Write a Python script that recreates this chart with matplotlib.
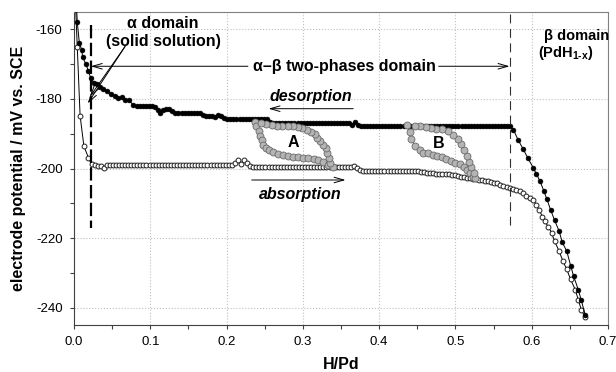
import matplotlib
matplotlib.use('Agg')
import matplotlib.pyplot as plt
from matplotlib.ticker import MultipleLocator

# 字体: Arial 风格 (Liberation Sans)
plt.rcParams['font.family'] = ['Liberation Sans', 'DejaVu Sans']
plt.rcParams['mathtext.fontset'] = 'custom'
plt.rcParams['mathtext.rm'] = 'Liberation Sans:bold'
plt.rcParams['mathtext.bf'] = 'Liberation Sans:bold'
plt.rcParams['mathtext.it'] = 'Liberation Sans:italic:bold'

# 1. desorption curve (filled dots)
des_x = [
    0.003, 0.0043, 0.007, 0.010, 0.0114, 0.0157, 0.019, 0.022, 0.026, 0.030,
    0.034, 0.038, 0.043, 0.048, 0.054, 0.058, 0.063, 0.067, 0.072, 0.077,
    0.082, 0.086, 0.090, 0.094, 0.098, 0.102, 0.106, 0.110, 0.113, 0.117,
    0.121, 0.125, 0.129, 0.133, 0.137, 0.141, 0.145, 0.149, 0.153, 0.157,
    0.161, 0.165, 0.169, 0.173, 0.177, 0.181, 0.185, 0.189, 0.193, 0.197,
    0.201, 0.205, 0.209, 0.213, 0.217, 0.221, 0.225, 0.229, 0.233, 0.237,
    0.241, 0.245, 0.249, 0.253, 0.257, 0.261, 0.265, 0.269, 0.273, 0.277,
    0.281, 0.285, 0.289, 0.293, 0.297, 0.301, 0.305, 0.309, 0.313, 0.317,
    0.321, 0.325, 0.329, 0.333, 0.337, 0.341, 0.345, 0.349, 0.353, 0.357,
    0.361, 0.364, 0.368, 0.372, 0.376, 0.380, 0.384, 0.388, 0.392, 0.396,
    0.400, 0.404, 0.408, 0.412, 0.416, 0.420, 0.424, 0.428, 0.432, 0.436,
    0.440, 0.444, 0.448, 0.452, 0.456, 0.460, 0.464, 0.468, 0.472, 0.476,
    0.480, 0.484, 0.488, 0.492, 0.496, 0.500, 0.504, 0.508, 0.512, 0.516,
    0.520, 0.524, 0.528, 0.532, 0.536, 0.540, 0.544, 0.548, 0.552, 0.556,
    0.560, 0.564, 0.568, 0.571, 0.576, 0.582, 0.589, 0.595, 0.602, 0.606,
    0.611, 0.616, 0.620, 0.625, 0.630, 0.636, 0.640, 0.646, 0.651, 0.655,
    0.661, 0.665, 0.670]
des_y = [
    -152.0, -157.9, -163.8, -165.8, -168.0, -170.0, -172.0, -174.0, -175.5, -175.8,
    -176.5, -177.0, -177.7, -178.5, -179.2, -179.8, -179.4, -180.3, -180.3, -181.6,
    -182.0, -182.0, -182.0, -182.0, -182.0, -182.0, -182.4, -183.2, -184.0, -183.2,
    -183.0, -183.0, -183.5, -184.0, -184.0, -184.0, -184.0, -184.0, -184.0, -184.0,
    -184.0, -184.0, -184.7, -185.0, -185.0, -185.0, -185.2, -184.5, -185.0, -185.4,
    -185.7, -185.7, -185.7, -185.7, -185.7, -185.7, -185.7, -185.7, -185.7, -185.7,
    -185.7, -185.7, -185.7, -185.7, -186.5, -186.8, -186.8, -186.8, -186.8, -186.8,
    -186.8, -186.8, -186.8, -186.8, -186.8, -186.8, -186.8, -186.8, -186.8, -186.8,
    -186.8, -186.8, -186.8, -186.8, -186.8, -186.8, -186.8, -186.8, -186.8, -186.8,
    -186.8, -187.6, -186.6, -187.5, -187.8, -187.8, -187.8, -187.8, -187.8, -187.8,
    -187.8, -187.8, -187.8, -187.8, -187.8, -187.8, -187.8, -187.8, -187.8, -187.8,
    -187.8, -187.8, -187.8, -187.8, -187.8, -187.8, -187.8, -187.8, -187.8, -187.8,
    -187.8, -187.8, -187.8, -187.8, -187.8, -187.8, -187.8, -187.8, -187.8, -187.8,
    -187.8, -187.8, -187.8, -187.8, -187.8, -187.8, -187.8, -187.8, -187.8, -187.8,
    -187.8, -187.8, -187.8, -187.8, -188.8, -191.7, -194.5, -197.0, -199.8, -201.5,
    -203.7, -206.5, -208.9, -212.0, -214.9, -218.0, -221.2, -223.8, -227.9, -231.0,
    -234.8, -237.9, -242.0]

# 2. absorption curve (open circles)
abs_x = [
    0.0015, 0.0043, 0.008, 0.013, 0.019, 0.023, 0.027, 0.031, 0.035, 0.039,
    0.043, 0.047, 0.051, 0.055, 0.059, 0.063, 0.067, 0.071, 0.075, 0.079,
    0.083, 0.087, 0.091, 0.095, 0.099, 0.103, 0.107, 0.111, 0.115, 0.119,
    0.123, 0.127, 0.131, 0.135, 0.139, 0.143, 0.147, 0.151, 0.155, 0.159,
    0.163, 0.167, 0.171, 0.175, 0.179, 0.183, 0.187, 0.191, 0.195, 0.199,
    0.203, 0.207, 0.211, 0.215, 0.219, 0.223, 0.227, 0.231, 0.235, 0.239,
    0.243, 0.247, 0.251, 0.255, 0.259, 0.263, 0.267, 0.271, 0.275, 0.279,
    0.283, 0.287, 0.291, 0.295, 0.299, 0.303, 0.307, 0.311, 0.315, 0.319,
    0.323, 0.327, 0.331, 0.335, 0.339, 0.343, 0.347, 0.351, 0.355, 0.359,
    0.363, 0.367, 0.371, 0.375, 0.379, 0.383, 0.387, 0.391, 0.395, 0.399,
    0.403, 0.407, 0.411, 0.415, 0.419, 0.423, 0.427, 0.431, 0.435, 0.439,
    0.443, 0.447, 0.451, 0.455, 0.459, 0.463, 0.467, 0.471, 0.475, 0.479,
    0.483, 0.487, 0.491, 0.495, 0.499, 0.503, 0.507, 0.511, 0.515, 0.519,
    0.523, 0.527, 0.531, 0.535, 0.539, 0.543, 0.547, 0.551, 0.555, 0.559,
    0.563, 0.567, 0.571, 0.576, 0.580, 0.585, 0.589, 0.593, 0.598, 0.602,
    0.606, 0.610, 0.614, 0.617, 0.622, 0.626, 0.630, 0.636, 0.641, 0.646,
    0.651, 0.657, 0.661, 0.665, 0.670]
abs_y = [
    -150.0, -165.0, -184.8, -193.6, -196.9, -198.8, -199.0, -199.2, -199.3, -199.8,
    -199.0, -199.0, -199.0, -199.0, -199.0, -199.0, -199.0, -199.0, -199.0, -199.0,
    -199.0, -199.0, -199.0, -199.0, -199.0, -199.0, -199.0, -199.0, -199.0, -199.0,
    -199.0, -199.0, -199.0, -199.0, -199.0, -199.0, -199.0, -199.0, -199.0, -199.0,
    -199.0, -199.0, -199.0, -199.0, -199.0, -199.0, -199.0, -199.0, -199.0, -199.0,
    -199.0, -199.0, -198.5, -197.6, -198.6, -197.6, -198.4, -199.2, -199.5, -199.6,
    -199.6, -199.6, -199.6, -199.6, -199.6, -199.6, -199.6, -199.6, -199.6, -199.6,
    -199.6, -199.6, -199.6, -199.6, -199.6, -199.6, -199.6, -199.6, -199.6, -199.6,
    -199.6, -199.6, -199.6, -199.6, -199.6, -199.6, -199.6, -199.6, -199.6, -199.6,
    -199.6, -199.2, -199.8, -200.5, -200.8, -200.8, -200.8, -200.8, -200.8, -200.8,
    -200.8, -200.8, -200.8, -200.8, -200.8, -200.8, -200.8, -200.8, -200.8, -200.8,
    -200.8, -200.8, -200.8, -201.0, -201.1, -201.2, -201.3, -201.4, -201.5, -201.5,
    -201.5, -201.6, -201.7, -201.8, -202.0, -202.1, -202.3, -202.4, -202.6, -202.7,
    -202.9, -203.0, -203.2, -203.3, -203.5, -203.7, -203.9, -204.1, -204.3, -204.6,
    -204.9, -205.2, -205.6, -205.9, -206.2, -206.5, -207.0, -207.8, -208.5, -209.0,
    -210.4, -212.0, -213.8, -215.2, -216.8, -218.5, -220.9, -223.8, -226.7, -229.0,
    -231.9, -234.8, -237.7, -240.6, -242.7]

# 3. partial loops A / B (grey circles)
loopA_x = [0.237, 0.239, 0.242, 0.244, 0.246, 0.248, 0.252, 0.256, 0.261, 0.268,
           0.274, 0.281, 0.287, 0.294, 0.300, 0.307, 0.314, 0.320, 0.327, 0.333,
           0.339, 0.336, 0.334, 0.332, 0.330, 0.326, 0.322, 0.319, 0.316, 0.311,
           0.305, 0.299, 0.293, 0.287, 0.280, 0.273, 0.266, 0.259, 0.252, 0.245]
loopA_y = [-186.7, -187.8, -189.3, -190.7, -191.9, -193.1, -194.0, -194.7, -195.3, -195.7,
           -196.0, -196.3, -196.6, -196.6, -196.9, -196.9, -197.2, -197.6, -198.2, -199.0,
           -199.5, -198.4, -197.0, -195.5, -194.0, -193.1, -192.1, -191.2, -190.2, -189.6,
           -189.0, -188.3, -188.0, -187.9, -187.8, -187.8, -187.7, -187.4, -187.2, -187.0]
loopB_x = [0.437, 0.440, 0.442, 0.447, 0.453, 0.458, 0.464, 0.470, 0.476, 0.482,
           0.488, 0.494, 0.500, 0.506, 0.511, 0.515, 0.519, 0.523, 0.526, 0.524,
           0.521, 0.518, 0.515, 0.511, 0.507, 0.503, 0.497, 0.490, 0.482, 0.475,
           0.468, 0.461, 0.454, 0.447]
loopB_y = [-187.6, -189.5, -191.5, -193.4, -194.8, -195.4, -195.6, -196.0, -196.3, -196.7,
           -197.3, -197.8, -198.3, -198.8, -199.6, -200.3, -201.2, -202.3, -202.8, -201.2,
           -199.7, -198.0, -196.3, -194.7, -193.0, -191.6, -190.3, -189.3, -188.7, -188.5,
           -188.3, -188.1, -187.9, -187.8]

xtick_vals = [0.0, 0.1, 0.2, 0.3, 0.4, 0.5, 0.6, 0.7]
xtick_labels = ['0.0', '0.1', '0.2', '0.3', '0.4', '0.5', '0.6', '0.7']
ytick_vals = [-240, -220, -200, -180, -160]
ytick_labels = ['-240', '-220', '-200', '-180', '-160']

fig = plt.figure(figsize=(6.16, 3.72), dpi=100)
ax = fig.add_axes([0.1201, 0.1263, 0.8669, 0.8414])

# curves
ax.plot(abs_x, abs_y, '-o', color='black', lw=0.7, ms=3.5, mfc='white', mec='#202020', mew=0.7, zorder=3)
ax.plot(des_x, des_y, '-o', color='black', lw=0.7, ms=3.5, mfc='black', mec='black', mew=0.4, zorder=4)
for lx, ly in [(loopA_x, loopA_y), (loopB_x, loopB_y)]:
    ax.plot(lx, ly, '-o', color='#505050', lw=0.7, ms=5.0, mfc='#b4b4b4', mec='#6a6a6a', mew=0.6, zorder=5)

# domain boundaries
ax.plot([0.022, 0.022], [-158.6, -217.0], color='black', lw=1.6, ls=(0, (6, 2)), zorder=6)
ax.plot([0.571, 0.571], [-155.5, -217.4], color='#303030', lw=0.8, ls=(0, (8, 5)), zorder=6)

bold = dict(fontsize=11.5, fontweight='bold', ha='center', va='center', zorder=7)
small = dict(fontsize=10.5, fontweight='bold', ha='center', va='center', zorder=7)
arr = dict(arrowstyle='->,head_length=0.7,head_width=0.2', lw=0.7, color='black', shrinkA=0, shrinkB=0)

# alpha-beta two-phases domain
ax.text(0.354, -170.6, '\u03b1\u2013\u03b2 two-phases domain', **bold)
ax.annotate('', xy=(0.022, -170.6), xytext=(0.228, -170.6), arrowprops=arr)
ax.annotate('', xy=(0.571, -170.6), xytext=(0.478, -170.6), arrowprops=arr)

# alpha domain
ax.text(0.117, -158.3, '\u03b1 domain', **bold)
ax.text(0.117, -163.4, '(solid solution)', **bold)
ax.annotate('', xy=(0.021, -179.3), xytext=(0.067, -164.9), arrowprops=arr)
ax.annotate('', xy=(0.018, -181.3), xytext=(0.067, -164.9), arrowprops=arr)

# beta domain
ax.text(0.659, -161.9, '\u03b2 domain', **small)
ax.text(0.645, -166.7, r'(PdH$_{\mathbf{1\text{-}x}}$)', **small)

# desorption / absorption
ax.text(0.311, -179.2, 'desorption', fontstyle='italic', **bold)
ax.annotate('', xy=(0.255, -182.8), xytext=(0.366, -182.8), arrowprops=arr)
ax.text(0.297, -207.5, 'absorption', fontstyle='italic', **bold)
ax.annotate('', xy=(0.356, -203.3), xytext=(0.233, -203.3), arrowprops=arr)

ax.text(0.287, -192.6, 'A', **bold)
ax.text(0.4775, -192.9, 'B', **bold)

# axes
ax.set_xlim(0, 0.7)
ax.set_ylim(-245, -155)
ax.set_xticks(xtick_vals)
ax.set_xticklabels(xtick_labels)
ax.set_yticks(ytick_vals)
ax.set_yticklabels(ytick_labels)
ax.xaxis.set_minor_locator(MultipleLocator(0.05))
ax.yaxis.set_minor_locator(MultipleLocator(10))
ax.tick_params(which='both', direction='out', length=3.2, width=0.8, color='#404040',
               labelsize=9.5, pad=5)
ax.grid(True, which='major', ls=':', color='#c0c0c0', lw=0.8)
ax.set_axisbelow(True)
for side in ['left', 'bottom']:
    ax.spines[side].set_color('#404040')
for side in ['top', 'right']:
    ax.spines[side].set_color('#808080')

ax.set_xlabel('H/Pd', fontsize=11.5, fontweight='bold', labelpad=6)
ax.set_ylabel('electrode potential / mV vs. SCE', fontsize=11.5, fontweight='bold', labelpad=7)

fig.savefig('out.png', dpi=100)
